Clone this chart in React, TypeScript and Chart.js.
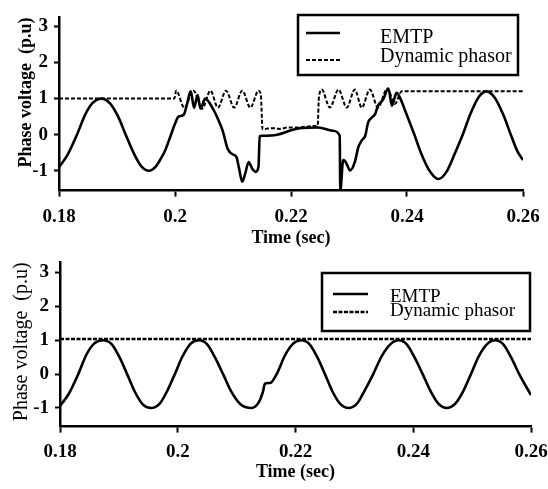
import React, { useEffect, useRef } from "react";
import { Chart, registerables } from "chart.js";

Chart.register(...registerables);

// ---------- data ----------
const xTicks = [0.18, 0.2, 0.22, 0.24, 0.26];
const xTickLabels = ["0.18", "0.2", "0.22", "0.24", "0.26"];
const yTicks = [-1, 0, 1, 2, 3];
const yTickLabels = ["-1", "0", "1", "2", "3"];
const seriesLabels = ["EMTP", "Dynamic phasor"];
const xTitle = "Time (sec)";
const yTitle = "Phase voltage  (p.u)";

// top panel, EMTP
const topEmtpT = [
  0.18, 0.1815, 0.1831, 0.1845, 0.1858, 0.1873, 0.1888, 0.1902, 0.1915, 0.1929,
  0.1942, 0.1955, 0.1966, 0.1975, 0.1983, 0.1992, 0.2, 0.2006, 0.2015, 0.202,
  0.2027, 0.2033, 0.2039, 0.2044, 0.2052, 0.2066, 0.2075, 0.2082, 0.2091, 0.21,
  0.2106, 0.211, 0.2116, 0.2121, 0.2127, 0.2133, 0.2139, 0.2144, 0.2146, 0.215,
  0.2176, 0.22, 0.2215, 0.2247, 0.2272, 0.2284, 0.2285, 0.229, 0.2294, 0.2297,
  0.2302, 0.231, 0.2316, 0.2322, 0.2328, 0.2333, 0.2339, 0.2345, 0.235, 0.2359,
  0.2368, 0.2374, 0.2382, 0.2388, 0.2397, 0.2412, 0.2425, 0.244, 0.2454, 0.2468,
  0.2483, 0.2496, 0.251, 0.2524, 0.2537, 0.2551, 0.2566, 0.2579, 0.259, 0.26,
];
const topEmtpV = [
  -0.9, -0.55, 0, 0.55, 0.88, 1.0, 0.87, 0.5, 0, -0.52,
  -0.88, -1.0, -0.9, -0.68, -0.44, -0.05, 0.3, 0.5, 0.55, 0.8,
  1.2, 0.75, 1.1, 0.72, 1.0, 0.7, 0.4, 0.12, -0.4, -0.55,
  -0.62, -0.9, -1.3, -1.08, -0.76, -0.94, -1.03, -0.88, -0.05, -0.03,
  0.0, 0.12, 0.18, 0.2, 0.11, -0.03, -1.55, -0.7, -0.75, -0.85,
  -0.99, -0.76, -0.35, -0.16, -0.03, 0.34, 0.47, 0.57, 0.8, 0.98,
  1.28, 0.8, 1.16, 1.02, 0.66, 0.03, -0.54, -1.03, -1.23, -1.03,
  -0.5, 0.0, 0.6, 1.05, 1.2, 1.03, 0.55, 0.0, -0.45, -0.7,
];

// top panel, dynamic phasor
const topPhasorT = [
  0.18, 0.1999, 0.2002, 0.2016, 0.2032, 0.2047, 0.2061, 0.2074, 0.2088, 0.2102,
  0.2116, 0.213, 0.2144, 0.2148, 0.2151, 0.216, 0.217, 0.218, 0.2195, 0.221,
  0.2225, 0.224, 0.2246, 0.2248, 0.2253, 0.2267, 0.2282, 0.2296, 0.231, 0.2322,
  0.2336, 0.235, 0.2366, 0.2379, 0.2391, 0.24, 0.26,
];
const topPhasorV = [
  1.0, 1.0, 1.22, 0.75, 1.22, 0.72, 1.22, 0.75, 1.22, 0.75,
  1.22, 0.75, 1.22, 1.1, 0.15, 0.17, 0.18, 0.16, 0.2, 0.2,
  0.22, 0.24, 0.25, 1.0, 1.25, 0.75, 1.25, 0.75, 1.25, 0.75,
  1.25, 0.75, 1.28, 0.85, 1.2, 1.2, 1.2,
];

// bottom panel, EMTP
const botEmtpT = [
  0.18, 0.1815, 0.1831, 0.1845, 0.1858, 0.1873, 0.1888, 0.1901, 0.1914, 0.1928,
  0.1941, 0.1955, 0.1969, 0.1982, 0.1995, 0.2008, 0.2022, 0.2036, 0.205, 0.2063,
  0.2077, 0.2091, 0.2106, 0.2125, 0.2137, 0.2145, 0.2148, 0.2157, 0.2168, 0.2182,
  0.2196, 0.221, 0.2224, 0.2237, 0.225, 0.2263, 0.2276, 0.229, 0.2304, 0.2317,
  0.2332, 0.2346, 0.2361, 0.2375, 0.2389, 0.2402, 0.2416, 0.243, 0.2443, 0.2457,
  0.2471, 0.2485, 0.2498, 0.2511, 0.2525, 0.2539, 0.2553, 0.2566, 0.258, 0.26,
];
const botEmtpV = [
  -0.94, -0.58, 0, 0.58, 0.9, 1.0, 0.88, 0.5, 0, -0.55,
  -0.9, -1.0, -0.88, -0.5, 0, 0.52, 0.9, 1.0, 0.88, 0.5,
  0, -0.52, -0.88, -1.0, -0.85, -0.5, -0.28, -0.26, 0, 0.55,
  0.9, 1.0, 0.88, 0.5, 0, -0.52, -0.88, -1.0, -0.88, -0.5,
  0, 0.52, 0.88, 1.0, 0.88, 0.5, 0, -0.52, -0.88, -1.0,
  -0.88, -0.5, 0, 0.52, 0.88, 1.0, 0.88, 0.5, 0, -0.62,
];

// bottom panel, dynamic phasor
const botPhasorT = [0.18, 0.26];
const botPhasorV = [1.04, 1.04];

// ---------- chart helpers ----------
const FONT = "'Liberation Serif', 'Times New Roman', serif";

const pts = (t: number[], v: number[]) => t.map((x, i) => ({ x, y: v[i] }));

type Panel = {
  width: number;
  height: number;
  yMin: number;
  yMax: number;
  yAxisWidth: number;
  xAxisHeight: number;
  padTop: number;
  padRight: number;
  tickPadX: number;
  yTitleFont: any;
  yTitlePad: number;
  xTitlePad: number;
  legend: {
    x0: number; y0: number; x1: number; y1: number;
    sx0: number; sx1: number; textX: number;
    rows: { lineY: number; baseY: number }[];
    fontSize: number;
  };
  emtp: { x: number; y: number }[];
  phasor: { x: number; y: number }[];
  phasorWidth: number;
  phasorDash: number[];
};

const boxLegendPlugin = (lg: Panel["legend"]) => ({
  id: "boxLegend",
  afterDraw(chart: any) {
    const ctx = chart.ctx as CanvasRenderingContext2D;
    ctx.save();
    ctx.fillStyle = "#fff";
    ctx.fillRect(lg.x0, lg.y0, lg.x1 - lg.x0, lg.y1 - lg.y0);
    ctx.lineWidth = 2.5;
    ctx.strokeStyle = "#000";
    ctx.setLineDash([]);
    ctx.strokeRect(lg.x0, lg.y0, lg.x1 - lg.x0, lg.y1 - lg.y0);
    chart.data.datasets.forEach((ds: any, i: number) => {
      const r = lg.rows[i];
      ctx.setLineDash(ds.borderDash || []);
      ctx.lineWidth = ds.borderWidth;
      ctx.strokeStyle = ds.borderColor;
      ctx.beginPath();
      ctx.moveTo(lg.sx0, r.lineY);
      ctx.lineTo(lg.sx1, r.lineY);
      ctx.stroke();
      ctx.setLineDash([]);
      ctx.fillStyle = "#000";
      ctx.font = `${lg.fontSize}px ${FONT}`;
      ctx.textBaseline = "alphabetic";
      ctx.textAlign = "left";
      ctx.fillText(ds.label, lg.textX, r.baseY);
    });
    ctx.restore();
  },
});

function makeChart(canvas: HTMLCanvasElement, p: Panel) {
  return new Chart(canvas, {
    type: "line",
    data: {
      datasets: [
        {
          label: seriesLabels[0],
          data: p.emtp,
          borderColor: "#000",
          borderWidth: 2.6,
          pointRadius: 0,
          cubicInterpolationMode: "monotone",
          order: 1,
        },
        {
          label: seriesLabels[1],
          data: p.phasor,
          borderColor: "#000",
          borderWidth: p.phasorWidth,
          borderDash: p.phasorDash,
          pointRadius: 0,
          cubicInterpolationMode: "monotone",
          order: 0,
        },
      ],
    } as any,
    options: {
      animation: false,
      responsive: false,
      devicePixelRatio: 1,
      layout: { padding: { left: 0, right: p.padRight, top: p.padTop, bottom: 0 } },
      plugins: { legend: { display: false }, title: { display: false }, tooltip: { enabled: false } },
      scales: {
        x: {
          type: "linear",
          min: 0.18,
          max: 0.26,
          afterBuildTicks: (s: any) => {
            s.ticks = xTicks.map((v) => ({ value: v }));
          },
          afterFit: (s: any) => {
            s.height = p.xAxisHeight;
            s.paddingLeft = 0;
            s.paddingRight = 0;
          },
          border: { display: true, color: "#000", width: 2.5 },
          grid: {
            display: true,
            drawOnChartArea: false,
            drawTicks: true,
            tickLength: 6,
            tickColor: "#000",
            tickWidth: 2,
          },
          ticks: {
            color: "#000",
            font: { family: FONT, size: 19, weight: "bold" },
            padding: p.tickPadX,
            maxRotation: 0,
            autoSkip: false,
            callback: (v: any) => {
              const i = xTicks.indexOf(v);
              return i >= 0 ? xTickLabels[i] : "";
            },
          },
          title: {
            display: true,
            text: xTitle,
            color: "#000",
            font: { family: FONT, size: 18, weight: "bold" },
            padding: { top: 0, bottom: p.xTitlePad },
          },
        },
        y: {
          type: "linear",
          min: p.yMin,
          max: p.yMax,
          afterBuildTicks: (s: any) => {
            s.ticks = yTicks.map((v) => ({ value: v }));
          },
          afterFit: (s: any) => {
            s.width = p.yAxisWidth;
          },
          border: { display: true, color: "#000", width: 2.5 },
          grid: {
            display: true,
            drawOnChartArea: false,
            drawTicks: true,
            tickLength: 5,
            tickColor: "#000",
            tickWidth: 2,
          },
          ticks: {
            color: "#000",
            font: { family: FONT, size: 19, weight: "bold" },
            padding: 6,
            autoSkip: false,
            callback: (v: any) => {
              const i = yTicks.indexOf(v);
              return i >= 0 ? yTickLabels[i] : "";
            },
          },
          title: {
            display: true,
            text: yTitle,
            align: "end",
            color: "#000",
            font: p.yTitleFont,
            padding: { top: p.yTitlePad, bottom: 0 },
          },
        },
      },
    } as any,
    plugins: [boxLegendPlugin(p.legend)],
  });
}

const topPanel: Panel = {
  width: 548,
  height: 250,
  yMin: -1.55,
  yMax: 3.25,
  yAxisWidth: 59,
  xAxisHeight: 59.4,
  padTop: 15.4,
  padRight: 25,
  tickPadX: 9,
  yTitleFont: { family: FONT, size: 18, weight: "bold" },
  yTitlePad: 16,
  xTitlePad: 1,
  legend: {
    x0: 298, y0: 15, x1: 518, y1: 75,
    sx0: 306, sx1: 340, textX: 380,
    rows: [{ lineY: 33, baseY: 43 }, { lineY: 60, baseY: 62 }],
    fontSize: 20,
  },
  emtp: pts(topEmtpT, topEmtpV),
  phasor: pts(topPhasorT, topPhasorV),
  phasorWidth: 2,
  phasorDash: [4, 2],
};

const bottomPanel: Panel = {
  width: 548,
  height: 244,
  yMin: -1.55,
  yMax: 3.3,
  yAxisWidth: 60,
  xAxisHeight: 62.4,
  padTop: 10.7,
  padRight: 17,
  tickPadX: 8,
  yTitleFont: { family: FONT, size: 20, weight: "normal" },
  yTitlePad: 10,
  xTitlePad: 6,
  legend: {
    x0: 322, y0: 28, x1: 530, y1: 86,
    sx0: 333, sx1: 368, textX: 390,
    rows: [{ lineY: 49, baseY: 57 }, { lineY: 67, baseY: 71 }],
    fontSize: 19,
  },
  emtp: pts(botEmtpT, botEmtpV),
  phasor: pts(botPhasorT, botPhasorV),
  phasorWidth: 2.5,
  phasorDash: [4, 1.5],
};

export default function App() {
  const topRef = useRef<HTMLCanvasElement | null>(null);
  const botRef = useRef<HTMLCanvasElement | null>(null);

  useEffect(() => {
    const c1 = makeChart(topRef.current as HTMLCanvasElement, topPanel);
    const c2 = makeChart(botRef.current as HTMLCanvasElement, bottomPanel);
    return () => {
      c1.destroy();
      c2.destroy();
    };
  }, []);

  return (
    <div style={{ position: "absolute", left: 0, top: 0, width: 548, height: 489, background: "#fff" }}>
      <canvas
        ref={topRef}
        width={topPanel.width}
        height={topPanel.height}
        style={{ position: "absolute", left: 0, top: 0, width: topPanel.width, height: topPanel.height }}
      />
      <canvas
        ref={botRef}
        width={bottomPanel.width}
        height={bottomPanel.height}
        style={{ position: "absolute", left: 0, top: 245, width: bottomPanel.width, height: bottomPanel.height }}
      />
    </div>
  );
}
